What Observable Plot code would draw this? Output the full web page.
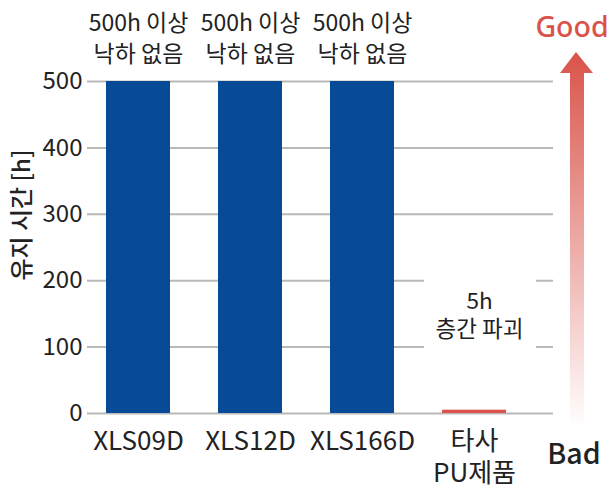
<!DOCTYPE html>
<html><head><meta charset="utf-8">
<script src="https://cdn.jsdelivr.net/npm/d3@7"></script>
<script src="https://cdn.jsdelivr.net/npm/@observablehq/plot@0.6"></script>
<style>
body{margin:0;background:#fff;font-family:"Noto Sans CJK KR","Noto Sans",sans-serif}
#chart svg{display:block}
</style>
</head><body><div id="chart"></div>
<script>
const categories = ["XLS09D", "XLS12D", "XLS166D", "타사\nPU제품"];
const hours = [500, 500, 500, 5];
const barColors = ["#074a96", "#074a96", "#074a96", "#d9534a"];
const notes = ["500h 이상\n낙하 없음", "500h 이상\n낙하 없음", "500h 이상\n낙하 없음", "5h\n층간 파괴"];
const yTicks = [0, 100, 200, 300, 400, 500];
const yLabel = "유지 시간 [h]";
const goodLabel = "Good";
const badLabel = "Bad";

const data = categories.map((c, i) => ({cat: c, h: hours[i], color: barColors[i], note: notes[i]}));
const topNotes = data.slice(0, 3);
const lowNotes = data.slice(3);

const font = "'Noto Sans CJK KR', 'Noto Sans', sans-serif";

const chart = Plot.plot({
  width: 612,
  height: 496,
  marginLeft: 87,
  marginRight: 59,
  marginTop: 81,
  marginBottom: 83,
  style: {fontFamily: font, background: "#fff", color: "#222"},
  x: {domain: categories, range: [56, 555], padding: 0.43},
  y: {domain: [0, 500]},
  marks: [
    Plot.gridY(yTicks, {stroke: "#b9b9b9", strokeOpacity: 1, strokeWidth: 2}),
    Plot.rect(lowNotes, {x: "cat", y1: 96, y2: 204, fill: "#fff", insetLeft: -18, insetRight: -30}),
    Plot.barY(data, {x: "cat", y: "h", fill: "color"}),
    Plot.axisY(yTicks, {tickSize: 0, tickPadding: 5, fontSize: 24, label: null, fill: "#222"}),
    Plot.axisX({tickSize: 0, tickPadding: 13, fontSize: 26, lineHeight: 1.25, label: null, fill: "#222", lineAnchor: "top"}),
    Plot.text(topNotes, {x: "cat", y: "h", text: "note", lineAnchor: "bottom", dy: -20, fontSize: 23, lineHeight: 1.32, fill: "#222"}),
    Plot.text(lowNotes, {x: "cat", y: 150, text: "note", lineAnchor: "middle", dx: 5, fontSize: 22.5, lineHeight: 1.27, fill: "#222"})
  ]
});

document.getElementById("chart").appendChild(chart);

const svg = d3.select(chart);
const defs = svg.append("defs");
const grad = defs.append("linearGradient").attr("id", "arrowGrad")
  .attr("gradientUnits", "userSpaceOnUse").attr("x1", 0).attr("y1", 52).attr("x2", 0).attr("y2", 428);
grad.append("stop").attr("offset", 0).attr("stop-color", "#d9534a").attr("stop-opacity", 1);
grad.append("stop").attr("offset", 1).attr("stop-color", "#d9534a").attr("stop-opacity", 0);

svg.append("path")
  .attr("d", "M576,52 L593,73 L584,73 L584,428 L570,428 L570,73 L560,73 Z")
  .attr("fill", "url(#arrowGrad)");

svg.append("text").text(goodLabel)
  .attr("x", 572).attr("y", 37).attr("text-anchor", "middle")
  .attr("font-size", 28.5).attr("font-weight", 500).attr("fill", "#d9534a")
  .attr("font-family", "'Noto Sans', sans-serif");

svg.append("text").text(badLabel)
  .attr("x", 574).attr("y", 464).attr("text-anchor", "middle")
  .attr("font-size", 28.5).attr("font-weight", 500).attr("fill", "#222")
  .attr("font-family", font);

svg.append("text").text(yLabel)
  .attr("transform", "translate(30,215) rotate(-90)")
  .attr("text-anchor", "middle")
  .attr("font-size", 24).attr("font-weight", 500).attr("fill", "#222")
  .attr("font-family", font);
</script>
</body></html>
